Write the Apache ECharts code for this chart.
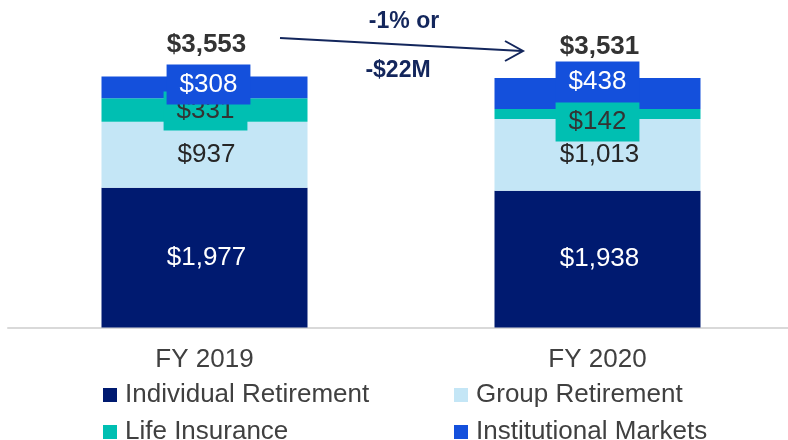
<!DOCTYPE html>
<html>
<head>
<meta charset="utf-8">
<script src="https://cdn.jsdelivr.net/npm/echarts@6/dist/echarts.min.js"></script>
<style>html,body{margin:0;padding:0;background:#fff}#c{width:788px;height:440px}</style>
</head>
<body>
<div id="c"></div>
<script>
var categories = ['FY 2019', 'FY 2020'];
var individualRetirement = [1977, 1938];
var groupRetirement = [937, 1013];
var lifeInsurance = [331, 142];
var institutionalMarkets = [308, 438];
var totals = [3553, 3531];
var changeLines = ['-1% or', '-$22M'];
var legendNames = ['Individual Retirement', 'Group Retirement', 'Life Insurance', 'Institutional Markets'];

var FONT = '"Liberation Sans", Arial, sans-serif';
function fmt(v) { return '$' + Number(v).toLocaleString('en-US'); }

function legendAt(name, left, top) {
  return {
    left: left, top: top, itemWidth: 14, itemHeight: 14, icon: 'rect',
    textStyle: { color: '#404040', fontSize: 26, fontFamily: FONT, padding: [0, 0, 0, 3] },
    data: [name]
  };
}

var chart = echarts.init(document.getElementById('c'));
chart.setOption({
  animation: false,
  textStyle: { fontFamily: FONT },
  grid: { left: 8, width: 786, top: 45, bottom: 112.5, outerBoundsMode: 'none', containLabel: false },
  xAxis: {
    type: 'category',
    data: categories,
    axisLine: { lineStyle: { color: '#d9d9d9', width: 2 } },
    axisTick: { show: false },
    axisLabel: { color: '#404040', fontSize: 26, margin: 19, fontFamily: FONT }
  },
  yAxis: { type: 'value', min: 0, max: 4000, show: false, splitLine: { show: false } },
  legend: [
    legendAt(legendNames[0], 98, 377),
    legendAt(legendNames[1], 449, 377),
    legendAt(legendNames[2], 98, 414),
    legendAt(legendNames[3], 449, 414)
  ],
  series: [
    {
      name: legendNames[0], type: 'bar', stack: 't', barWidth: 206,
      itemStyle: { color: '#001a70' },
      label: { show: true, position: 'inside', color: '#ffffff', fontSize: 26, fontFamily: FONT,
        offset: [2, 0],
        formatter: function (p) { return fmt(p.value); } },
      data: individualRetirement
    },
    {
      name: legendNames[1], type: 'bar', stack: 't',
      itemStyle: { color: '#c4e6f6' },
      label: { show: true, position: 'inside', color: '#262626', fontSize: 26, fontFamily: FONT,
        offset: [2, 0],
        formatter: function (p) { return fmt(p.value); } },
      data: groupRetirement
    },
    {
      name: legendNames[2], type: 'bar', stack: 't',
      itemStyle: { color: '#00bfb2' },
      label: { show: true, position: 'inside', color: '#333333', fontSize: 26, fontFamily: FONT,
        backgroundColor: '#00bfb2', padding: [7, 13, 6, 13],
        formatter: function (p) { return fmt(p.value); } },
      data: [
        { value: lifeInsurance[0], label: { offset: [1, 1] } },
        { value: lifeInsurance[1], label: { offset: [0, 8] } }
      ]
    },
    {
      name: legendNames[3], type: 'bar', stack: 't',
      itemStyle: { color: '#1450dc' },
      label: { show: true, position: 'inside', color: '#ffffff', fontSize: 26, fontFamily: FONT,
        backgroundColor: '#1450dc', padding: [7, 13, 7, 13],
        formatter: function (p) { return fmt(p.value); } },
      data: [
        { value: institutionalMarkets[0], label: { offset: [4, -3] } },
        { value: institutionalMarkets[1], label: { offset: [0, -12] } }
      ]
    },
    {
      name: 'Total', type: 'scatter', symbolSize: 1,
      itemStyle: { color: 'rgba(255,255,255,0)' },
      label: { show: true, position: 'top', distance: 19, color: '#333333', opacity: 1, fontSize: 26,
        fontWeight: 'bold', fontFamily: FONT, offset: [2, 1],
        formatter: function (p) { return fmt(p.value); } },
      data: totals
    }
  ],
  graphic: [
    { type: 'polyline', shape: { points: [[280, 38], [522, 51]] },
      style: { stroke: '#13265c', lineWidth: 2, fill: null } },
    { type: 'polyline', shape: { points: [[505, 41], [523, 51], [505, 61]] },
      style: { stroke: '#13265c', lineWidth: 2, fill: null } },
    { type: 'text', x: 404, y: 22,
      style: { text: changeLines[0], fill: '#13265c', font: 'bold 23px ' + FONT, textAlign: 'center', textVerticalAlign: 'middle' } },
    { type: 'text', x: 398, y: 71,
      style: { text: changeLines[1], fill: '#13265c', font: 'bold 23px ' + FONT, textAlign: 'center', textVerticalAlign: 'middle' } }
  ]
});
</script>
</body>
</html>
